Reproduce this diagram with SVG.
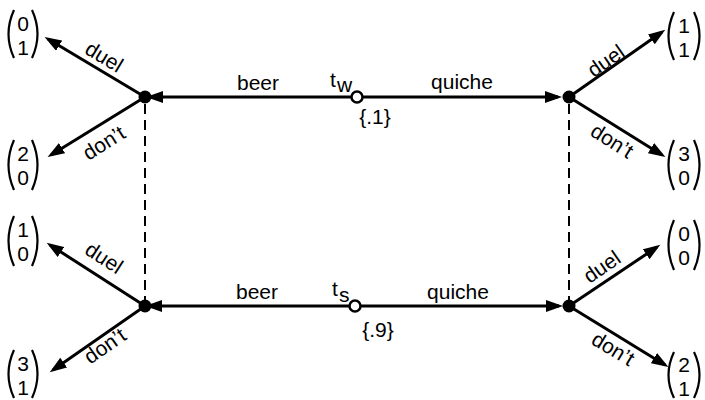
<svg xmlns="http://www.w3.org/2000/svg" width="705" height="400" viewBox="0 0 705 400">
<style>
text{font-family:"Liberation Sans",Arial,sans-serif;fill:#000}
.lbl{font-size:21px}
.num{font-size:21px;text-anchor:middle}
.edge{stroke:#000;stroke-width:3;fill:none;marker-end:url(#ah)}
.dash{stroke:#000;stroke-width:2;stroke-dasharray:10,6;fill:none}
.par{stroke:#000;stroke-width:2.2;fill:none}
.dot{fill:#000}
.open{fill:#fff;stroke:#000;stroke-width:2.5}
</style>
<defs>
<marker id="ah" markerUnits="userSpaceOnUse" markerWidth="19" markerHeight="13" refX="13" refY="6" orient="auto">
<path d="M0,0 L17,6 L0,12 z" fill="#000"/>
</marker>
</defs>
<rect width="705" height="400" fill="#fff"/>
<g id="connectors">
<line class="edge" x1="351" y1="97" x2="150" y2="97"/>
<line class="edge" x1="362" y1="97" x2="558" y2="97"/>
<line class="edge" x1="350" y1="306" x2="149" y2="306"/>
<line class="edge" x1="361" y1="306" x2="559" y2="306"/>
<line class="edge" x1="145" y1="97" x2="48" y2="39"/>
<line class="edge" x1="145" y1="97" x2="51" y2="155"/>
<line class="edge" x1="569" y1="97" x2="662" y2="32"/>
<line class="edge" x1="569" y1="97" x2="662" y2="155"/>
<line class="edge" x1="145" y1="306" x2="50" y2="245"/>
<line class="edge" x1="145" y1="306" x2="53" y2="370"/>
<line class="edge" x1="569" y1="306" x2="657" y2="247"/>
<line class="edge" x1="569" y1="306" x2="665" y2="365"/>
<line class="dash" x1="145" y1="104" x2="145" y2="300"/>
<line class="dash" x1="569" y1="104" x2="569" y2="300"/>
<text class="lbl" x="258" y="90" text-anchor="middle">beer</text>
<text class="lbl" x="462" y="89" text-anchor="middle">quiche</text>
<text class="lbl" x="257" y="299" text-anchor="middle">beer</text>
<text class="lbl" x="458" y="299" text-anchor="middle">quiche</text>
<text class="lbl" text-anchor="middle" transform="translate(104,57) rotate(31)" y="7">duel</text>
<text class="lbl" text-anchor="middle" transform="translate(104,143) rotate(-32)" y="7">don’t</text>
<text class="lbl" text-anchor="middle" transform="translate(606,61) rotate(-35)" y="7">duel</text>
<text class="lbl" text-anchor="middle" transform="translate(612,141) rotate(32)" y="7">don’t</text>
<text class="lbl" text-anchor="middle" transform="translate(104,258) rotate(33)" y="7">duel</text>
<text class="lbl" text-anchor="middle" transform="translate(105,346) rotate(-35)" y="7">don’t</text>
<text class="lbl" text-anchor="middle" transform="translate(602,267) rotate(-35)" y="7">duel</text>
<text class="lbl" text-anchor="middle" transform="translate(613,349) rotate(31)" y="7">don’t</text>
</g>
<g id="tw">
<circle class="open" cx="357" cy="97" r="5.5"/>
<text class="lbl" x="330" y="87">t</text><text class="lbl" x="337" y="92" font-size="20">w</text>
<text class="lbl" x="375" y="124" text-anchor="middle">{.1}</text>
</g>
<g id="ts">
<circle class="open" cx="355" cy="306" r="5.5"/>
<text class="lbl" x="332" y="296">t</text><text class="lbl" x="339" y="302" font-size="20">s</text>
<text class="lbl" x="378" y="337" text-anchor="middle">{.9}</text>
</g>
<g id="n-tl"><circle class="dot" cx="145" cy="97" r="6.5"/></g>
<g id="n-tr"><circle class="dot" cx="569" cy="97" r="6.5"/></g>
<g id="n-bl"><circle class="dot" cx="145" cy="306" r="6.5"/></g>
<g id="n-br"><circle class="dot" cx="569" cy="306" r="6.5"/></g>
<g id="p-tl1">
<path class="par" d="M14,10 Q3,34 14,58"/><path class="par" d="M32,10 Q43,34 32,58"/>
<text class="num" x="23" y="31">0</text><text class="num" x="23" y="55">1</text>
</g>
<g id="p-tl2">
<path class="par" d="M14,140 Q3,165 14,190"/><path class="par" d="M32,140 Q43,165 32,190"/>
<text class="num" x="23" y="161">2</text><text class="num" x="23" y="185">0</text>
</g>
<g id="p-tr1">
<path class="par" d="M674,12 Q663,36 674,60"/><path class="par" d="M694,12 Q705,36 694,60"/>
<text class="num" x="684" y="33">1</text><text class="num" x="684" y="57">1</text>
</g>
<g id="p-tr2">
<path class="par" d="M674,140 Q663,165 674,190"/><path class="par" d="M694,140 Q705,165 694,190"/>
<text class="num" x="684" y="161">3</text><text class="num" x="684" y="185">0</text>
</g>
<g id="p-bl1">
<path class="par" d="M14,216 Q3,241 14,266"/><path class="par" d="M32,216 Q43,241 32,266"/>
<text class="num" x="23" y="237">1</text><text class="num" x="23" y="261">0</text>
</g>
<g id="p-bl2">
<path class="par" d="M14,350 Q3,374 14,398"/><path class="par" d="M32,350 Q43,374 32,398"/>
<text class="num" x="23" y="371">3</text><text class="num" x="23" y="395">1</text>
</g>
<g id="p-br1">
<path class="par" d="M674,220 Q663,245 674,270"/><path class="par" d="M694,220 Q705,245 694,270"/>
<text class="num" x="684" y="241">0</text><text class="num" x="684" y="265">0</text>
</g>
<g id="p-br2">
<path class="par" d="M674,352 Q663,375 674,398"/><path class="par" d="M694,352 Q705,375 694,398"/>
<text class="num" x="684" y="372">2</text><text class="num" x="684" y="396">1</text>
</g>
</svg>
